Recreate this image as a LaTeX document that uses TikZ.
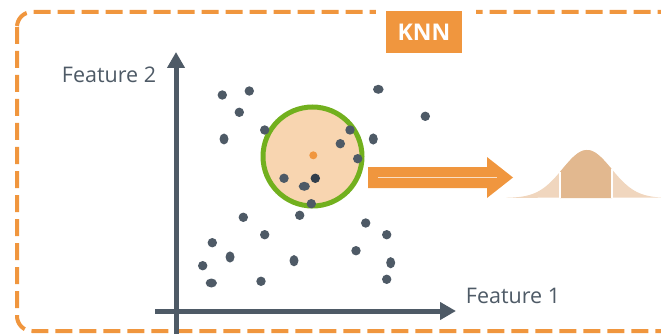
\documentclass[tikz,border=0pt]{standalone}
\usepackage{fontspec}
\setmainfont{Open Sans}
\usetikzlibrary{arrows.meta}
\definecolor{axisgray}{HTML}{4E5A66}
\definecolor{dotgray}{HTML}{4E5A66}
\definecolor{dotdark}{HTML}{323E4B}
\definecolor{knnorange}{HTML}{F0963E}
\definecolor{peach}{HTML}{F8D5B0}
\definecolor{knngreen}{HTML}{72B01E}
\definecolor{belllight}{HTML}{F0D6BE}
\definecolor{bellmid}{HTML}{E2B88F}
\tikzset{
  dot/.style={fill=dotgray, draw=none},
  axis/.style={draw=axisgray, line width=5pt, -{Triangle[length=16pt,width=17pt]}},
  lab/.style={text=axisgray, font=\fontsize{21.5}{26}\selectfont, inner sep=0pt},
}
\begin{document}
\begin{tikzpicture}[x=1pt,y=-1pt]
\useasboundingbox (0,0) rectangle (661,334);
\begin{scope}
\clip (0,0) rectangle (661,334);
% dashed border
\draw[knnorange, line width=4pt, dash pattern=on 17pt off 7pt, rounded corners=15pt] (17,12) rectangle (680,331);
% KNN tab
\fill[white] (376,4) rectangle (476,20);
\node[fill=knnorange, minimum width=76pt, minimum height=42pt, inner sep=0pt, text=white, font=\bfseries\fontsize{23}{26}\selectfont] (knn) at (424,32) {KNN};
% axes
\coordinate (yb) at (176,340);
\coordinate (yt) at (176,52);
\coordinate (xl) at (155,311);
\coordinate (xr) at (456,311);
\draw[axis] (yb) -- (yt);
\draw[axis] (xl) -- (xr);
\node[lab] (f2) at (109,75) {Feature 2};
\node[lab] (f1) at (513,296) {Feature 1};
% neighbourhood circle
\draw[knngreen, line width=5pt, fill=peach] (312.5,156.5) circle (49.5);
\fill[knnorange] (313.3,155.3) circle (4);
% dots
\foreach \p in {(222.3,95),(249.3,91),(239.3,112.3),(425.3,116.3),(264.7,130),(350,130),(340.3,143.7),(357.7,158.7),(284,178.3),(311.3,203.7),(243.3,217.3),(299.7,215.3),(365.7,223),(264.7,234.7),(386.7,234.7),(212.3,242.7),(356,250.7),(202.7,265.7),(261,281.3),(386.7,279.3)}
  \fill[dot] \p circle (4.7);
\fill[dot] (378.3,89.3) ellipse (5.3 and 4.5);
\fill[dot] (224,139) ellipse (4.5 and 5.5);
\fill[dot] (373.3,139) ellipse (4.5 and 5.6);
\fill[dotdark] (315.3,178.3) circle (4.7);
\fill[dot] (304.3,186.3) ellipse (5.6 and 4.5);
\fill[dot] (230,257) ellipse (4.5 and 5.6);
\fill[dot] (294,260.7) ellipse (4.5 and 5.6);
\fill[dot] (390.7,262.7) ellipse (4.5 and 5.6);
\fill[dot] (211.3,283) ellipse (5.6 and 4.5);
% big arrow
\fill[knnorange] (368,167) -- (487,167) -- (487,157) -- (513,177.5) -- (487,198) -- (487,188) -- (368,188) -- cycle;
\draw[white, opacity=0.7, line width=1pt] (378,177.7) -- (497,177.7);
% bell curve
\fill[belllight] plot[domain=506:662, samples=90] (\x, {198-48*exp(-((\x-587)*(\x-587))/1200)}) -- cycle;
\fill[bellmid] plot[domain=560:612, samples=40] (\x, {198-48*exp(-((\x-587)*(\x-587))/1200)}) -- (612,198) -- (560,198) -- cycle;
\draw[white, line width=1.5pt] (560,198) -- (560,{198-48*exp(-729/1200)});
\draw[white, line width=1.5pt] (612,198) -- (612,{198-48*exp(-625/1200)});
\end{scope}
\end{tikzpicture}
\end{document}
